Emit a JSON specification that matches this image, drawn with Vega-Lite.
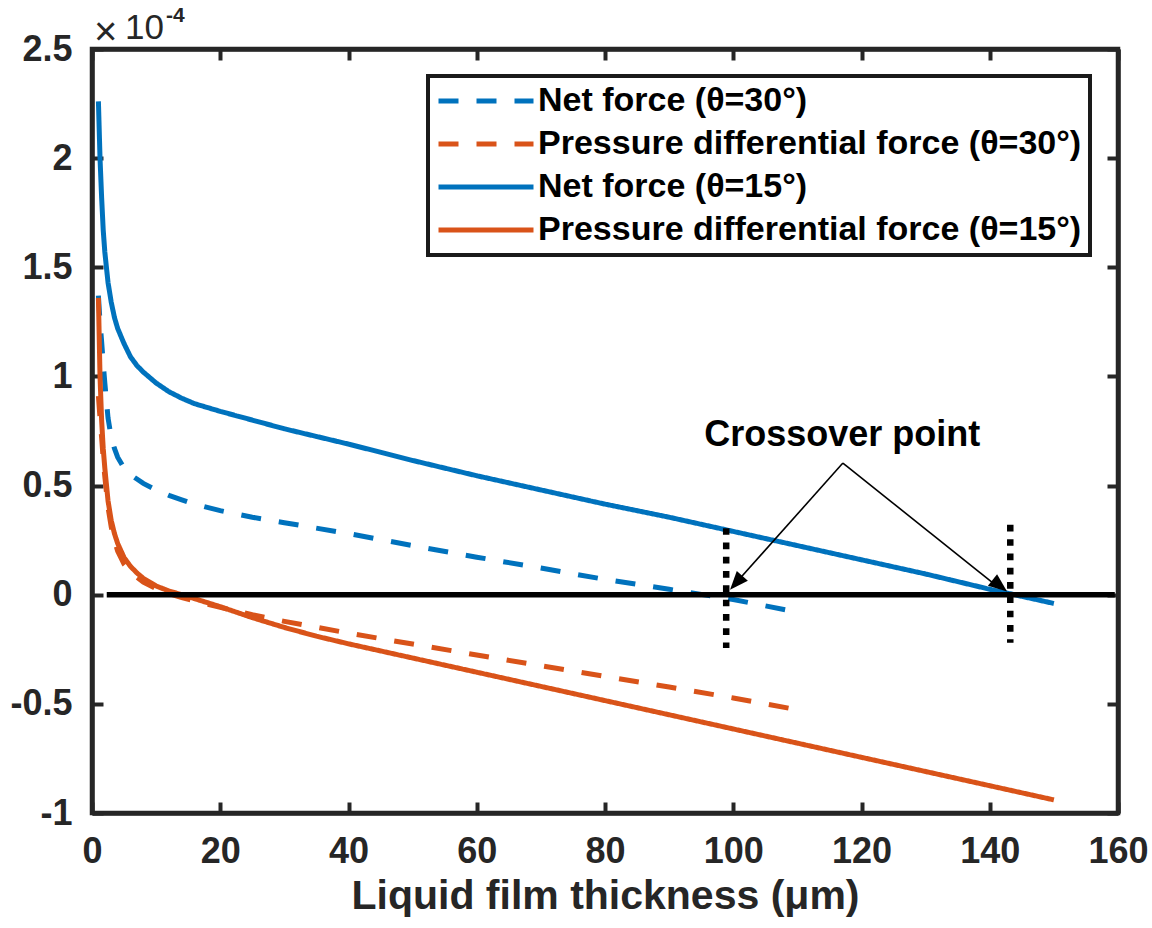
{
  "$schema": "https://vega.github.io/schema/vega-lite/v6.json",
  "width": 1026,
  "height": 764,
  "autosize": {"type": "none"},
  "padding": {"left": 92, "top": 49, "right": 34, "bottom": 115},
  "background": "white",
  "config": {
    "font": "Liberation Sans",
    "view": {"stroke": "#262626", "strokeWidth": 4.5},
    "axis": {
      "grid": false,
      "domainColor": "#262626",
      "domainWidth": 4.5,
      "tickColor": "#262626",
      "tickWidth": 4,
      "tickSize": -11,
      "labelFont": "Liberation Sans",
      "labelFontWeight": "bold",
      "labelFontSize": 36,
      "labelColor": "#262626",
      "labelFlush": false,
      "labelOverlap": false,
      "labelBound": false,
      "titleFont": "Liberation Sans",
      "titleFontWeight": "bold",
      "titleColor": "#262626"
    }
  },
  "datasets": {
    "curves": [
      {"s": "Net force (θ=30°)", "x": 1, "y": 1.37},
      {"s": "Net force (θ=30°)", "x": 1.25, "y": 1.25},
      {"s": "Net force (θ=30°)", "x": 1.5, "y": 1.16},
      {"s": "Net force (θ=30°)", "x": 1.75, "y": 1.06},
      {"s": "Net force (θ=30°)", "x": 2, "y": 0.97},
      {"s": "Net force (θ=30°)", "x": 2.5, "y": 0.81},
      {"s": "Net force (θ=30°)", "x": 3, "y": 0.72},
      {"s": "Net force (θ=30°)", "x": 3.5, "y": 0.67},
      {"s": "Net force (θ=30°)", "x": 4, "y": 0.63},
      {"s": "Net force (θ=30°)", "x": 5, "y": 0.58},
      {"s": "Net force (θ=30°)", "x": 6, "y": 0.55},
      {"s": "Net force (θ=30°)", "x": 7, "y": 0.53},
      {"s": "Net force (θ=30°)", "x": 8, "y": 0.51},
      {"s": "Net force (θ=30°)", "x": 10, "y": 0.48},
      {"s": "Net force (θ=30°)", "x": 12, "y": 0.455},
      {"s": "Net force (θ=30°)", "x": 14, "y": 0.435},
      {"s": "Net force (θ=30°)", "x": 16, "y": 0.415},
      {"s": "Net force (θ=30°)", "x": 20, "y": 0.385},
      {"s": "Net force (θ=30°)", "x": 25, "y": 0.355},
      {"s": "Net force (θ=30°)", "x": 30, "y": 0.33},
      {"s": "Net force (θ=30°)", "x": 40, "y": 0.28},
      {"s": "Net force (θ=30°)", "x": 50, "y": 0.225},
      {"s": "Net force (θ=30°)", "x": 60, "y": 0.172},
      {"s": "Net force (θ=30°)", "x": 70, "y": 0.122},
      {"s": "Net force (θ=30°)", "x": 80, "y": 0.07},
      {"s": "Net force (θ=30°)", "x": 90, "y": 0.025},
      {"s": "Net force (θ=30°)", "x": 100, "y": -0.022},
      {"s": "Net force (θ=30°)", "x": 110, "y": -0.08},

      {"s": "Pressure differential force (θ=30°)", "x": 1, "y": 0.91},
      {"s": "Pressure differential force (θ=30°)", "x": 1.25, "y": 0.81},
      {"s": "Pressure differential force (θ=30°)", "x": 1.5, "y": 0.72},
      {"s": "Pressure differential force (θ=30°)", "x": 1.75, "y": 0.62},
      {"s": "Pressure differential force (θ=30°)", "x": 2, "y": 0.54},
      {"s": "Pressure differential force (θ=30°)", "x": 2.5, "y": 0.4},
      {"s": "Pressure differential force (θ=30°)", "x": 3, "y": 0.31},
      {"s": "Pressure differential force (θ=30°)", "x": 3.5, "y": 0.25},
      {"s": "Pressure differential force (θ=30°)", "x": 4, "y": 0.2},
      {"s": "Pressure differential force (θ=30°)", "x": 5, "y": 0.14},
      {"s": "Pressure differential force (θ=30°)", "x": 6, "y": 0.105},
      {"s": "Pressure differential force (θ=30°)", "x": 7, "y": 0.08},
      {"s": "Pressure differential force (θ=30°)", "x": 8, "y": 0.058},
      {"s": "Pressure differential force (θ=30°)", "x": 10, "y": 0.028},
      {"s": "Pressure differential force (θ=30°)", "x": 12, "y": 0.005},
      {"s": "Pressure differential force (θ=30°)", "x": 14, "y": -0.013},
      {"s": "Pressure differential force (θ=30°)", "x": 16, "y": -0.028},
      {"s": "Pressure differential force (θ=30°)", "x": 20, "y": -0.058},
      {"s": "Pressure differential force (θ=30°)", "x": 25, "y": -0.092},
      {"s": "Pressure differential force (θ=30°)", "x": 30, "y": -0.122},
      {"s": "Pressure differential force (θ=30°)", "x": 40, "y": -0.176},
      {"s": "Pressure differential force (θ=30°)", "x": 50, "y": -0.226},
      {"s": "Pressure differential force (θ=30°)", "x": 60, "y": -0.276},
      {"s": "Pressure differential force (θ=30°)", "x": 70, "y": -0.325},
      {"s": "Pressure differential force (θ=30°)", "x": 80, "y": -0.374},
      {"s": "Pressure differential force (θ=30°)", "x": 90, "y": -0.423},
      {"s": "Pressure differential force (θ=30°)", "x": 100, "y": -0.473},
      {"s": "Pressure differential force (θ=30°)", "x": 110, "y": -0.527},

      {"s": "Net force (θ=15°)", "x": 1, "y": 2.26},
      {"s": "Net force (θ=15°)", "x": 1.25, "y": 2.0},
      {"s": "Net force (θ=15°)", "x": 1.5, "y": 1.82},
      {"s": "Net force (θ=15°)", "x": 1.75, "y": 1.67},
      {"s": "Net force (θ=15°)", "x": 2, "y": 1.57},
      {"s": "Net force (θ=15°)", "x": 2.5, "y": 1.43},
      {"s": "Net force (θ=15°)", "x": 3, "y": 1.34},
      {"s": "Net force (θ=15°)", "x": 3.5, "y": 1.27},
      {"s": "Net force (θ=15°)", "x": 4, "y": 1.22},
      {"s": "Net force (θ=15°)", "x": 5, "y": 1.15},
      {"s": "Net force (θ=15°)", "x": 6, "y": 1.09},
      {"s": "Net force (θ=15°)", "x": 7, "y": 1.05},
      {"s": "Net force (θ=15°)", "x": 8, "y": 1.02},
      {"s": "Net force (θ=15°)", "x": 10, "y": 0.97},
      {"s": "Net force (θ=15°)", "x": 12, "y": 0.93},
      {"s": "Net force (θ=15°)", "x": 14, "y": 0.9},
      {"s": "Net force (θ=15°)", "x": 16, "y": 0.875},
      {"s": "Net force (θ=15°)", "x": 20, "y": 0.84},
      {"s": "Net force (θ=15°)", "x": 25, "y": 0.8},
      {"s": "Net force (θ=15°)", "x": 30, "y": 0.76},
      {"s": "Net force (θ=15°)", "x": 35, "y": 0.725},
      {"s": "Net force (θ=15°)", "x": 40, "y": 0.69},
      {"s": "Net force (θ=15°)", "x": 50, "y": 0.615},
      {"s": "Net force (θ=15°)", "x": 60, "y": 0.545},
      {"s": "Net force (θ=15°)", "x": 70, "y": 0.48},
      {"s": "Net force (θ=15°)", "x": 80, "y": 0.415},
      {"s": "Net force (θ=15°)", "x": 90, "y": 0.355},
      {"s": "Net force (θ=15°)", "x": 100, "y": 0.29},
      {"s": "Net force (θ=15°)", "x": 110, "y": 0.225},
      {"s": "Net force (θ=15°)", "x": 120, "y": 0.16},
      {"s": "Net force (θ=15°)", "x": 130, "y": 0.095},
      {"s": "Net force (θ=15°)", "x": 140, "y": 0.025},
      {"s": "Net force (θ=15°)", "x": 150, "y": -0.04},

      {"s": "Pressure differential force (θ=15°)", "x": 1, "y": 1.36},
      {"s": "Pressure differential force (θ=15°)", "x": 1.25, "y": 1.0},
      {"s": "Pressure differential force (θ=15°)", "x": 1.5, "y": 0.8},
      {"s": "Pressure differential force (θ=15°)", "x": 1.75, "y": 0.67},
      {"s": "Pressure differential force (θ=15°)", "x": 2, "y": 0.58},
      {"s": "Pressure differential force (θ=15°)", "x": 2.5, "y": 0.43},
      {"s": "Pressure differential force (θ=15°)", "x": 3, "y": 0.34},
      {"s": "Pressure differential force (θ=15°)", "x": 3.5, "y": 0.28},
      {"s": "Pressure differential force (θ=15°)", "x": 4, "y": 0.235},
      {"s": "Pressure differential force (θ=15°)", "x": 5, "y": 0.17},
      {"s": "Pressure differential force (θ=15°)", "x": 6, "y": 0.13},
      {"s": "Pressure differential force (θ=15°)", "x": 7, "y": 0.1},
      {"s": "Pressure differential force (θ=15°)", "x": 8, "y": 0.075},
      {"s": "Pressure differential force (θ=15°)", "x": 10, "y": 0.04},
      {"s": "Pressure differential force (θ=15°)", "x": 12, "y": 0.017},
      {"s": "Pressure differential force (θ=15°)", "x": 14, "y": 0.0},
      {"s": "Pressure differential force (θ=15°)", "x": 16, "y": -0.018},
      {"s": "Pressure differential force (θ=15°)", "x": 20, "y": -0.055},
      {"s": "Pressure differential force (θ=15°)", "x": 25, "y": -0.105},
      {"s": "Pressure differential force (θ=15°)", "x": 30, "y": -0.15},
      {"s": "Pressure differential force (θ=15°)", "x": 35, "y": -0.19},
      {"s": "Pressure differential force (θ=15°)", "x": 40, "y": -0.225},
      {"s": "Pressure differential force (θ=15°)", "x": 50, "y": -0.29},
      {"s": "Pressure differential force (θ=15°)", "x": 60, "y": -0.355},
      {"s": "Pressure differential force (θ=15°)", "x": 70, "y": -0.42},
      {"s": "Pressure differential force (θ=15°)", "x": 80, "y": -0.485},
      {"s": "Pressure differential force (θ=15°)", "x": 90, "y": -0.55},
      {"s": "Pressure differential force (θ=15°)", "x": 100, "y": -0.615},
      {"s": "Pressure differential force (θ=15°)", "x": 110, "y": -0.68},
      {"s": "Pressure differential force (θ=15°)", "x": 120, "y": -0.745},
      {"s": "Pressure differential force (θ=15°)", "x": 130, "y": -0.81},
      {"s": "Pressure differential force (θ=15°)", "x": 140, "y": -0.875},
      {"s": "Pressure differential force (θ=15°)", "x": 150, "y": -0.94}
    ]
  },
  "layer": [
    {
      "data": {"name": "curves"},
      "mark": {"type": "line", "strokeWidth": 5, "strokeCap": "butt", "clip": true},
      "encoding": {
        "x": {
          "field": "x", "type": "quantitative",
          "scale": {"domain": [0, 160], "nice": false, "zero": false},
          "axis": {
            "orient": "bottom",
            "values": [0, 20, 40, 60, 80, 100, 120, 140, 160],
            "labelPadding": 32,
            "title": "Liquid film thickness (μm)",
            "titleFontSize": 41,
            "titleX": 513,
            "titleY": 95,
            "titleAlign": "center",
            "titleBaseline": "alphabetic"
          }
        },
        "y": {
          "field": "y", "type": "quantitative",
          "scale": {"domain": [-1, 2.5], "nice": false, "zero": false},
          "axis": {
            "orient": "left",
            "values": [-1, -0.5, 0, 0.5, 1, 1.5, 2, 2.5],
            "labelExpr": "'' + datum.value",
            "labelPadding": 31,
            "title": null
          }
        },
        "color": {
          "field": "s", "type": "nominal",
          "scale": {
            "domain": ["Net force (θ=30°)", "Pressure differential force (θ=30°)", "Net force (θ=15°)", "Pressure differential force (θ=15°)"],
            "range": ["#0072BD", "#D95319", "#0072BD", "#D95319"]
          },
          "legend": {
            "title": null,
            "orient": "none",
            "legendX": 336,
            "legendY": 27,
            "symbolType": "stroke",
            "symbolSize": 9025,
            "symbolStrokeWidth": 5,
            "clipHeight": 34,
            "labelFont": "Liberation Sans",
            "labelFontSize": 34,
            "labelFontWeight": "bold",
            "labelColor": "black",
            "labelOffset": 2,
            "labelLimit": 2000,
            "rowPadding": 9,
            "padding": 8,
            "fillColor": "white",
            "strokeColor": "#1a1a1a",
            "encode": {"legend": {"update": {"strokeWidth": {"value": 4}}}}
          }
        },
        "strokeDash": {
          "field": "s", "type": "nominal",
          "scale": {
            "domain": ["Net force (θ=30°)", "Pressure differential force (θ=30°)", "Net force (θ=15°)", "Pressure differential force (θ=15°)"],
            "range": [[20, 18], [20, 18], [1, 0], [1, 0]]
          },
          "legend": {
            "title": null,
            "orient": "none",
            "legendX": 336,
            "legendY": 27,
            "symbolType": "stroke",
            "symbolSize": 9025,
            "symbolStrokeWidth": 5,
            "clipHeight": 34,
            "labelFont": "Liberation Sans",
            "labelFontSize": 34,
            "labelFontWeight": "bold",
            "labelColor": "black",
            "labelOffset": 2,
            "labelLimit": 2000,
            "rowPadding": 9,
            "padding": 8,
            "fillColor": "white",
            "strokeColor": "#1a1a1a",
            "encode": {"legend": {"update": {"strokeWidth": {"value": 4}}}}
          }
        }
      }
    },
    {
      "data": {"values": [{"x": 2.3, "x2": 159.5, "y": 0}]},
      "mark": {"type": "rule", "strokeWidth": 5.5, "color": "black"},
      "encoding": {
        "x": {
          "field": "x", "type": "quantitative",
          "axis": {"orient": "top", "values": [0, 20, 40, 60, 80, 100, 120, 140, 160], "labels": false, "title": null}
        },
        "x2": {"field": "x2"},
        "y": {
          "field": "y", "type": "quantitative",
          "axis": {"orient": "right", "values": [-1, -0.5, 0, 0.5, 1, 1.5, 2, 2.5], "labels": false, "title": null}
        }
      }
    },
    {
      "data": {"values": [{"x": 98.9, "y": 0.305, "y2": -0.244}, {"x": 143.2, "y": 0.32, "y2": -0.22}]},
      "mark": {"type": "rule", "strokeWidth": 6.5, "color": "black", "strokeDash": [6.7, 7.6]},
      "encoding": {
        "x": {"field": "x", "type": "quantitative", "axis": null},
        "y": {"field": "y", "type": "quantitative", "axis": null},
        "y2": {"field": "y2"}
      }
    },
    {
      "data": {"values": [{"x": 117.1, "y": 0.603, "x2": 100.3, "y2": 0.05}, {"x": 117.1, "y": 0.603, "x2": 141.5, "y2": 0.03}]},
      "mark": {"type": "rule", "strokeWidth": 1.6, "color": "black"},
      "encoding": {
        "x": {"field": "x", "type": "quantitative", "axis": null},
        "y": {"field": "y", "type": "quantitative", "axis": null},
        "x2": {"field": "x2"},
        "y2": {"field": "y2"}
      }
    },
    {
      "data": {"values": [{"x": 99.5, "y": 0.023}]},
      "mark": {"type": "point", "shape": "M0,0L-0.4,1L0.4,1Z", "filled": true, "color": "black", "opacity": 1, "size": 1369, "angle": 221.6},
      "encoding": {
        "x": {"field": "x", "type": "quantitative", "axis": null},
        "y": {"field": "y", "type": "quantitative", "axis": null}
      }
    },
    {
      "data": {"values": [{"x": 142.7, "y": 0.015}]},
      "mark": {"type": "point", "shape": "M0,0L-0.4,1L0.4,1Z", "filled": true, "color": "black", "opacity": 1, "size": 1369, "angle": 128.1},
      "encoding": {
        "x": {"field": "x", "type": "quantitative", "axis": null},
        "y": {"field": "y", "type": "quantitative", "axis": null}
      }
    },
    {
      "data": {"values": [{"x": 117.0, "y": 0.683, "t": "Crossover point"}]},
      "mark": {"type": "text", "font": "Liberation Sans", "fontWeight": "bold", "fontSize": 36, "align": "center", "baseline": "alphabetic", "color": "black"},
      "encoding": {
        "x": {"field": "x", "type": "quantitative", "axis": null},
        "y": {"field": "y", "type": "quantitative", "axis": null},
        "text": {"field": "t"}
      }
    },
    {
      "data": {"values": [{"x": 0, "y": 2.5, "t": "×"}]},
      "mark": {"type": "text", "font": "Liberation Sans", "fontSize": 40, "align": "left", "baseline": "alphabetic", "dx": 2, "dy": -4, "color": "#262626"},
      "encoding": {
        "x": {"field": "x", "type": "quantitative", "axis": null},
        "y": {"field": "y", "type": "quantitative", "axis": null},
        "text": {"field": "t"}
      }
    },
    {
      "data": {"values": [{"x": 0, "y": 2.5, "t": "10"}]},
      "mark": {"type": "text", "font": "Liberation Sans", "fontSize": 35, "align": "left", "baseline": "alphabetic", "dx": 33, "dy": -10, "color": "#262626"},
      "encoding": {
        "x": {"field": "x", "type": "quantitative", "axis": null},
        "y": {"field": "y", "type": "quantitative", "axis": null},
        "text": {"field": "t"}
      }
    },
    {
      "data": {"values": [{"x": 0, "y": 2.5, "t": "-4"}]},
      "mark": {"type": "text", "font": "Liberation Sans", "fontWeight": "bold", "fontSize": 21, "align": "left", "baseline": "alphabetic", "dx": 74, "dy": -27, "color": "#262626"},
      "encoding": {
        "x": {"field": "x", "type": "quantitative", "axis": null},
        "y": {"field": "y", "type": "quantitative", "axis": null},
        "text": {"field": "t"}
      }
    }
  ]
}
